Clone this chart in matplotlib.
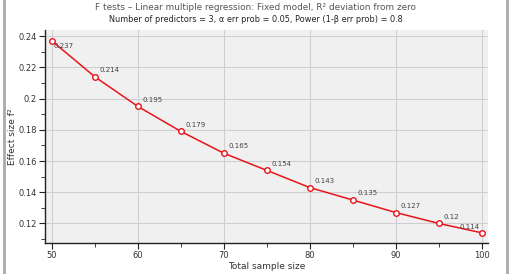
import matplotlib.pyplot as plt
from matplotlib.ticker import MultipleLocator
from matplotlib.lines import Line2D

sample_size = [50, 55, 60, 65, 70, 75, 80, 85, 90, 95, 100]
effect_size = [0.237, 0.214, 0.195, 0.179, 0.165, 0.154, 0.143, 0.135, 0.127, 0.12, 0.114]
point_labels = ['0.237', '0.214', '0.195', '0.179', '0.165', '0.154', '0.143', '0.135', '0.127', '0.12', '0.114']

fig = plt.figure(figsize=(5.11, 2.74), dpi=100)
ax = fig.add_axes([45 / 511, 1 - 243 / 274, 443 / 511, 213 / 274])
ax.set_facecolor('#f0f0f0')

ax.plot(sample_size, effect_size, color='#e8141a', lw=1.1, marker='o', ms=4,
        mfc='white', mec='#e8141a', mew=1, zorder=3)
for i, (x, y, t) in enumerate(zip(sample_size, effect_size, point_labels)):
    if i == 0:
        off = (1.5, -5)
    elif i == len(sample_size) - 1:
        off = (-16, 3)
    else:
        off = (3, 3.5)
    ax.annotate(t, (x, y), xytext=off, textcoords='offset points',
                fontsize=5, color='#444444')

ax.set_xlim(49.2, 100.7)
ax.set_ylim(0.1075, 0.244)
ax.xaxis.set_major_locator(MultipleLocator(10))
ax.xaxis.set_minor_locator(MultipleLocator(5))
ax.yaxis.set_minor_locator(MultipleLocator(0.01))
ax.set_yticks([0.12, 0.14, 0.16, 0.18, 0.2, 0.22, 0.24])
ax.set_yticklabels(['0.12', '0.14', '0.16', '0.18', '0.2', '0.22', '0.24'])
ax.grid(True, which='major', color='#cfcfcf', lw=0.8)
ax.set_axisbelow(True)
for s in ['top', 'right']:
    ax.spines[s].set_visible(False)
for s in ['left', 'bottom']:
    ax.spines[s].set_color('#222222')
    ax.spines[s].set_linewidth(1)
ax.tick_params(which='both', direction='out', labelsize=6, color='#222222',
               labelcolor='#333333', pad=2)
ax.tick_params(which='major', length=4)
ax.tick_params(which='minor', length=3)

ax.set_xlabel('Total sample size', fontsize=6.5, color='#333333', labelpad=1)
ax.set_ylabel('Effect size f²', fontsize=6.5, color='#333333', labelpad=1)

fig.text(0.5, 1 - 8 / 274, 'F tests – Linear multiple regression: Fixed model, R² deviation from zero',
         ha='center', va='center', fontsize=6.4, color='#555555')
fig.text(0.5, 1 - 19 / 274, 'Number of predictors = 3, α err prob = 0.05, Power (1-β err prob) = 0.8',
         ha='center', va='center', fontsize=5.9, color='#222222')

# window frame lines
fig.add_artist(Line2D([4 / 511, 4 / 511], [0, 1], transform=fig.transFigure, color='#aaaaaa', lw=2))
fig.add_artist(Line2D([507 / 511, 507 / 511], [0, 1], transform=fig.transFigure, color='#aaaaaa', lw=2))

fig.savefig('out.png', dpi=100)
